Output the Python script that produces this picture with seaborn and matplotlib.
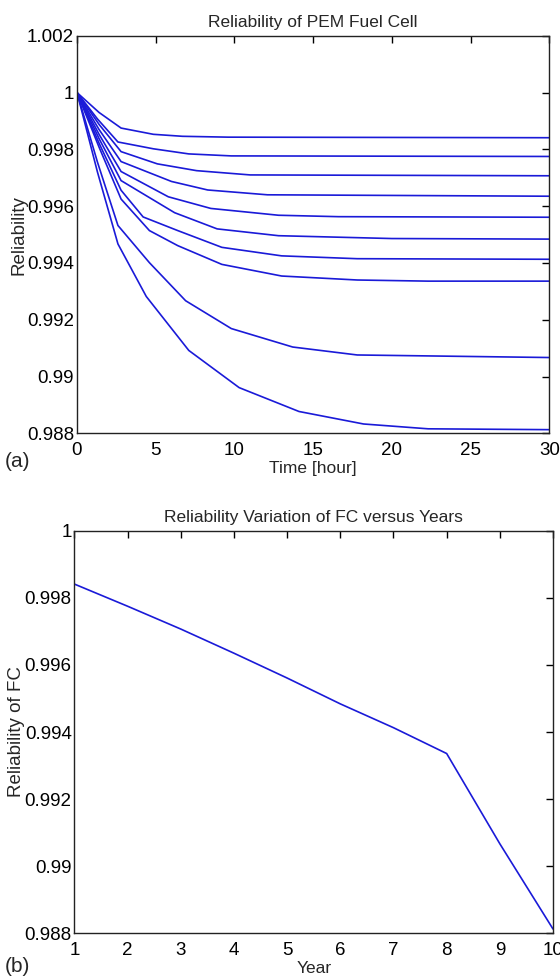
import pandas as pd
import matplotlib.pyplot as plt
import seaborn as sns
from matplotlib.ticker import FuncFormatter

sns.set_theme(style="white")
plt.rcParams['font.family'] = ['Liberation Sans', 'DejaVu Sans']

# Curvas de confiabilidade (uma por ano de operação)
years = [1, 2, 3, 4, 5, 6, 7, 8, 9, 10]
curve_times = [
    [0, 1.4, 2.8, 4.85, 6.7, 9.6, 30],
    [0, 1.3, 2.6, 4.85, 7.1, 9.8, 30],
    [0, 1.4, 2.8, 5.1, 7.6, 11.0, 30],
    [0, 1.4, 2.8, 6.0, 8.3, 12.1, 30],
    [0, 1.4, 2.8, 5.8, 8.5, 12.8, 16.6, 30],
    [0, 1.4, 2.8, 6.2, 8.9, 12.8, 20.0, 30],
    [0, 1.4, 2.8, 4.2, 6.4, 9.2, 13.0, 17.8, 30],
    [0, 1.4, 2.8, 4.6, 6.4, 9.2, 13.0, 17.8, 22.3, 30],
    [0, 1.3, 2.6, 4.6, 6.9, 9.8, 13.7, 17.8, 30],
    [0, 1.3, 2.6, 4.4, 7.1, 10.3, 14.1, 18.2, 22.3, 30],
]
curve_rel = [
    [1.0, 0.99930, 0.99875, 0.99853, 0.99846, 0.99843, 0.99841],
    [1.0, 0.99907, 0.99826, 0.99802, 0.99784, 0.99777, 0.99775],
    [1.0, 0.99888, 0.99792, 0.99749, 0.99725, 0.99710, 0.99707],
    [1.0, 0.99870, 0.99757, 0.99687, 0.99657, 0.99640, 0.99635],
    [1.0, 0.99853, 0.99722, 0.99633, 0.99592, 0.99568, 0.99563, 0.99561],
    [1.0, 0.99838, 0.99690, 0.99577, 0.99520, 0.99496, 0.99486, 0.99484],
    [1.0, 0.99822, 0.99656, 0.99562, 0.99514, 0.99455, 0.99425, 0.99415, 0.99413],
    [1.0, 0.99808, 0.99625, 0.99514, 0.99461, 0.99395, 0.99354, 0.99340, 0.99336, 0.99336],
    [1.0, 0.99755, 0.99532, 0.99401, 0.99267, 0.99169, 0.99104, 0.99076, 0.99067],
    [1.0, 0.99720, 0.99467, 0.99282, 0.99092, 0.98961, 0.98877, 0.98833, 0.98816, 0.98813],
]

# Confiabilidade final por ano
year_rel = [0.99841, 0.99775, 0.99707, 0.99635, 0.99561, 0.99484, 0.99413, 0.99336, 0.99067, 0.98813]

rows = []
for yr, ts, rs in zip(years, curve_times, curve_rel):
    for t, r in zip(ts, rs):
        rows.append({'year': yr, 'time': t, 'rel': r})
df_a = pd.DataFrame(rows)
df_b = pd.DataFrame({'year': years, 'rel': year_rel})

line_color = '#1a1ad8'
fig = plt.figure(figsize=(5.6, 9.8), dpi=100)
ax1 = fig.add_axes([0.1375, 0.5578, 0.8434, 0.4057])
ax2 = fig.add_axes([0.1330, 0.0476, 0.8545, 0.4108])

sns.lineplot(data=df_a, x='time', y='rel', units='year', estimator=None, sort=False,
             color=line_color, lw=1.2, ax=ax1)
sns.lineplot(data=df_b, x='year', y='rel', color=line_color, lw=1.2, ax=ax2)

def fmt(v, pos):
    return ('%.3f' % v).rstrip('0').rstrip('.')

for ax in (ax1, ax2):
    for s in ax.spines.values():
        s.set_color('#222222')
        s.set_linewidth(1.0)
    ax.tick_params(direction='in', length=5, width=1.0, top=True, right=True,
                   labelsize=13.5, colors='black')
    ax.tick_params(axis='x', pad=6.5)
    ax.tick_params(axis='y', pad=2)
    ax.yaxis.set_major_formatter(FuncFormatter(fmt))

ax1.set_xlim(0, 30)
ax1.set_ylim(0.988, 1.002)
ax1.set_xticks([0, 5, 10, 15, 20, 25, 30])
ax1.set_yticks([0.988, 0.99, 0.992, 0.994, 0.996, 0.998, 1.0, 1.002])
ax1.set_title('Reliability of PEM Fuel Cell', fontsize=12.5, pad=6)
ax1.set_xlabel('Time [hour]', fontsize=12.5, labelpad=1)
ax1.set_ylabel('Reliability', fontsize=13.5, labelpad=0)

ax2.set_xlim(1, 10)
ax2.set_ylim(0.988, 1.0)
ax2.set_xticks(range(1, 11))
ax2.set_yticks([0.988, 0.99, 0.992, 0.994, 0.996, 0.998, 1.0])
ax2.set_title('Reliability Variation of FC versus Years', fontsize=12.5, pad=6)
ax2.set_xlabel('Year', fontsize=12.5, labelpad=1)
ax2.set_ylabel('Reliability of FC', fontsize=13.5, labelpad=0)

fig.text(0.008, 0.523, '(a)', fontsize=15)
fig.text(0.008, 0.008, '(b)', fontsize=15)

fig.savefig('out.png', dpi=100)
